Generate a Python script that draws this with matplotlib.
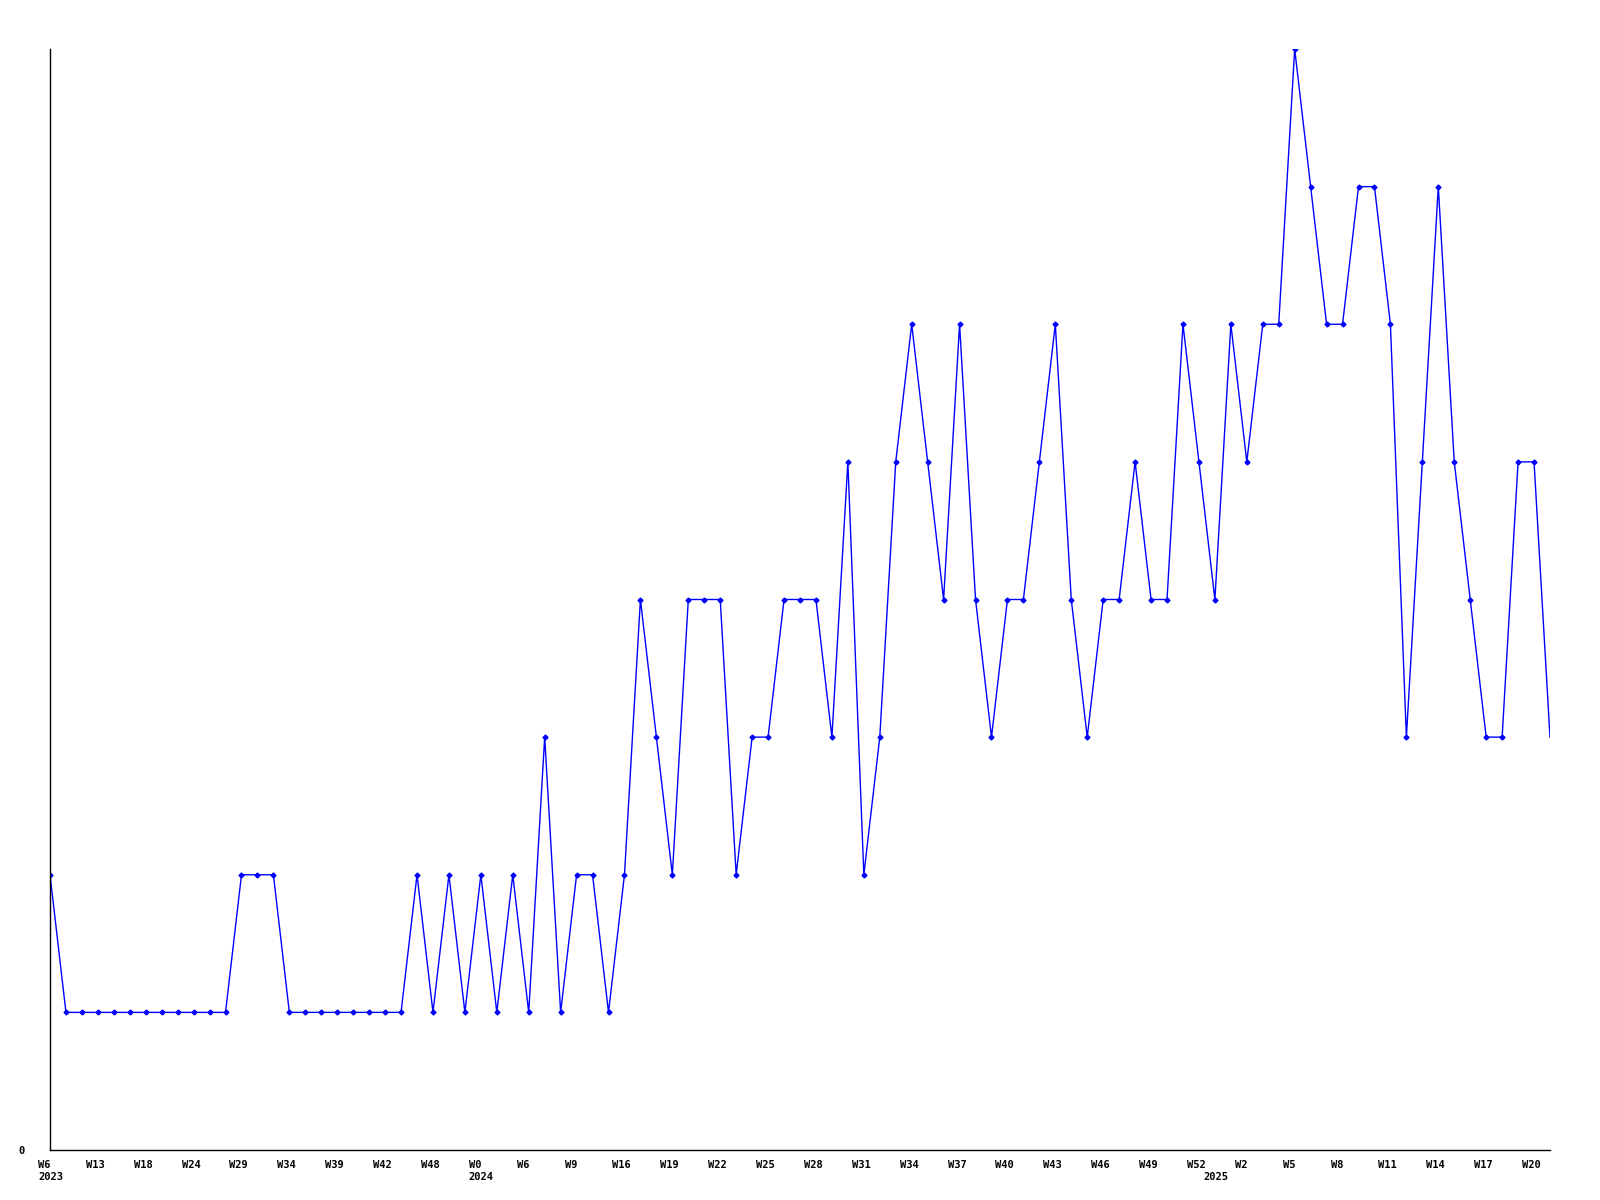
import matplotlib
matplotlib.use("Agg")
import matplotlib.pyplot as plt
import matplotlib.transforms as mtransforms

values = [2, 1, 1, 1, 1, 1, 1, 1, 1, 1, 1, 1, 2, 2, 2, 1, 1, 1, 1, 1,
          1, 1, 1, 2, 1, 2, 1, 2, 1, 2, 1, 3, 1, 2, 2, 1, 2, 4, 3, 2,
          4, 4, 4, 2, 3, 3, 4, 4, 4, 3, 5, 2, 3, 5, 6, 5, 4, 6, 4, 3,
          4, 4, 5, 6, 4, 3, 4, 4, 5, 4, 4, 6, 5, 4, 6, 5, 6, 6, 8, 7,
          6, 6, 7, 7, 6, 3, 5, 7, 5, 4, 3, 3, 5, 5, 3]

week_labels = ["W6", "W13", "W18", "W24", "W29", "W34", "W39", "W42", "W48",
               "W0", "W6", "W9", "W16", "W19", "W22", "W25", "W28", "W31",
               "W34", "W37", "W40", "W43", "W46", "W49", "W52", "W2", "W5",
               "W8", "W11", "W14", "W17", "W20"]
week_pos = list(range(0, 94, 3))

year_labels = ["2023", "2024", "2025"]
year_pos = [0, 27, 73]

font = dict(family="DejaVu Sans Mono", weight="bold", size=7.5)

fig = plt.figure(figsize=(16, 12), dpi=100)
ax = fig.add_axes([50/1600, 1 - 1150/1200, 1500/1600, (1150 - 49)/1200])

x = list(range(len(values)))
ax.plot(x, values, color=(0, 0, 1), lw=1.0, solid_joinstyle="miter")
ax.plot(x[:-1], values[:-1], ls="none", marker="D", ms=2.5, color=(0, 0, 1))

ax.set_xlim(0, len(values) - 1)
ax.set_ylim(0, 8)

for s in ["top", "right"]:
    ax.spines[s].set_visible(False)
for s in ["left", "bottom"]:
    ax.spines[s].set_linewidth(1.0)
    ax.spines[s].set_color("black")

ax.set_yticks([0])
ax.set_yticklabels(["0"], **font)
ax.tick_params(axis="y", length=0, pad=18)

ax.set_xticks(week_pos)
ax.set_xticklabels(week_labels, **font)
ax.tick_params(axis="x", length=0, pad=7)
offset = mtransforms.ScaledTranslation(-12/100, 0, fig.dpi_scale_trans)
for lbl in ax.get_xticklabels():
    lbl.set_horizontalalignment("left")
    lbl.set_transform(lbl.get_transform() + offset)

for pos, yl in zip(year_pos, year_labels):
    ax.annotate(yl, xy=(pos, 0), xycoords=("data", "axes fraction"),
                xytext=(-12*0.72, -22*0.72), textcoords="offset points",
                ha="left", va="top", **font)

fig.savefig("out.png", dpi=100)
